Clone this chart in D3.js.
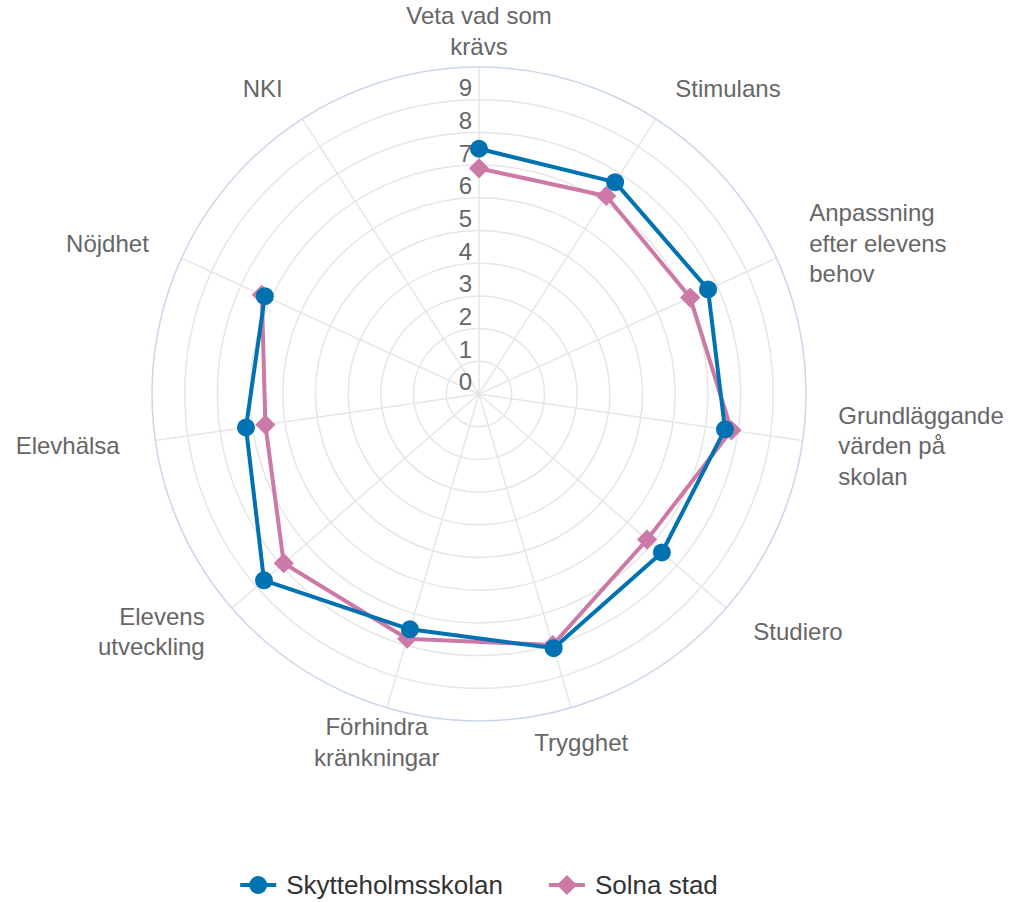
<!DOCTYPE html>
<html>
<head>
<meta charset="utf-8">
<script src="https://cdn.jsdelivr.net/npm/d3@7"></script>
<style>
  html, body { margin: 0; padding: 0; background: #fff; }
  svg { display: block; font-family: "Liberation Sans", Arial, sans-serif; }
</style>
</head>
<body>
<div id="chart"></div>
<script>
const categories = [
  "Veta vad som krävs", "Stimulans", "Anpassning efter elevens behov",
  "Grundläggande värden på skolan", "Studiero", "Trygghet",
  "Förhindra kränkningar", "Elevens utveckling", "Elevhälsa", "Nöjdhet", "NKI"
];
const seriesNames = ["Skytteholmsskolan", "Solna stad"];
const skytteholm = [7.5, 7.7, 7.7, 7.6, 7.4, 8.1, 7.5, 8.7, 7.2, 7.2, null];
const solna = [6.9, 7.2, 7.1, 7.8, 6.8, 8.0, 7.8, 7.9, 6.6, 7.3, null];
const tickValues = [0, 1, 2, 3, 4, 5, 6, 7, 8, 9];

const width = 1009, height = 902;
const cx = 479, cy = 394, R = 327;
const colors = ["#0072B2", "#CC79A7"];

const svg = d3.select("#chart").append("svg")
  .attr("width", width).attr("height", height);

const r = d3.scaleLinear().domain([0, 10]).range([0, R]);
const angle = d3.scaleLinear().domain([0, categories.length]).range([0, 2 * Math.PI]);

const g = svg.append("g").attr("transform", `translate(${cx},${cy})`);

// grid rings
g.append("g").selectAll("circle")
  .data(d3.range(1, 10))
  .join("circle")
  .attr("r", d => r(d))
  .attr("fill", "none")
  .attr("stroke", "#e6e6e6")
  .attr("stroke-width", 1.5);

// spokes
g.append("g").selectAll("line")
  .data(categories)
  .join("line")
  .attr("x2", (d, i) => r(10) * Math.sin(angle(i)))
  .attr("y2", (d, i) => -r(10) * Math.cos(angle(i)))
  .attr("stroke", "#e6e6e6")
  .attr("stroke-width", 1.5);

// outer axis line
g.append("circle")
  .attr("r", r(10))
  .attr("fill", "none")
  .attr("stroke", "#ccd6eb")
  .attr("stroke-width", 1.5);

// tick labels
g.append("g").selectAll("text")
  .data(tickValues)
  .join("text")
  .attr("x", -7)
  .attr("y", d => -r(d) - 12)
  .attr("dy", "0.35em")
  .attr("text-anchor", "end")
  .attr("font-size", 24)
  .attr("fill", "#666666")
  .text(d => d);

// category labels
const labelG = g.append("g");
const labelR = R + 36, lineH = 30.5, maxW = 155;
categories.forEach((name, i) => {
  const a = angle(i) * 180 / Math.PI;
  const x = labelR * Math.sin(angle(i));
  const y = -labelR * Math.cos(angle(i));
  const anchor = (a > 20 && a < 160) ? "start" : (a > 200 && a < 340) ? "end" : "middle";
  const t = labelG.append("text")
    .attr("font-size", 24)
    .attr("fill", "#666666")
    .attr("text-anchor", anchor);
  // wrap words to max width
  const words = name.split(" ");
  const lines = [];
  let cur = [];
  const probe = t.append("tspan");
  words.forEach(w => {
    const test = cur.concat(w).join(" ");
    probe.text(test);
    if (cur.length && probe.node().getComputedTextLength() > maxW) {
      lines.push(cur.join(" "));
      cur = [w];
    } else {
      cur.push(w);
    }
  });
  lines.push(cur.join(" "));
  probe.remove();
  const y0 = y - (lines.length - 1) * lineH / 2;
  lines.forEach((ln, k) => {
    t.append("tspan")
      .attr("x", x)
      .attr("y", y0 + k * lineH)
      .attr("dy", "0.35em")
      .text(ln);
  });
});

// series
const series = [
  { name: seriesNames[1], values: solna, color: colors[1], symbol: d3.symbolDiamond2 },
  { name: seriesNames[0], values: skytteholm, color: colors[0], symbol: d3.symbolCircle }
];

const line = d3.lineRadial()
  .defined(d => d != null)
  .angle((d, i) => angle(i))
  .radius(d => r(d));

const symSize = s => s === d3.symbolCircle ? Math.PI * 9 * 9 : 260;

series.forEach(s => {
  const sg = g.append("g");
  sg.append("path")
    .attr("d", line(s.values))
    .attr("fill", "none")
    .attr("stroke", s.color)
    .attr("stroke-width", 4)
    .attr("stroke-linejoin", "round");
  sg.selectAll("path.m")
    .data(s.values.map((v, i) => ({ v, i })).filter(d => d.v != null))
    .join("path")
    .attr("class", "m")
    .attr("d", d3.symbol().type(s.symbol).size(symSize(s.symbol)))
    .attr("transform", d => `translate(${r(d.v) * Math.sin(angle(d.i))},${-r(d.v) * Math.cos(angle(d.i))})`)
    .attr("fill", s.color);
});

// legend
const legend = svg.append("g");
const legendItems = [
  { name: seriesNames[0], color: colors[0], symbol: d3.symbolCircle },
  { name: seriesNames[1], color: colors[1], symbol: d3.symbolDiamond2 }
];
let lx = 0;
const ly = 885, itemGap = 46;
legendItems.forEach((it, k) => {
  const ig = legend.append("g").attr("transform", `translate(${lx},0)`);
  ig.append("line")
    .attr("x1", 0).attr("x2", 36)
    .attr("y1", ly).attr("y2", ly)
    .attr("stroke", it.color).attr("stroke-width", 4);
  ig.append("path")
    .attr("d", d3.symbol().type(it.symbol).size(symSize(it.symbol))())
    .attr("transform", `translate(18,${ly})`)
    .attr("fill", it.color);
  const tx = ig.append("text")
    .attr("x", 46).attr("y", ly)
    .attr("dy", "0.35em")
    .attr("font-size", 26)
    .attr("fill", "#333333")
    .text(it.name);
  lx += 46 + tx.node().getComputedTextLength() + itemGap;
});
const lw = lx - itemGap;
legend.attr("transform", `translate(${cx - lw / 2},0)`);
</script>
</body>
</html>
